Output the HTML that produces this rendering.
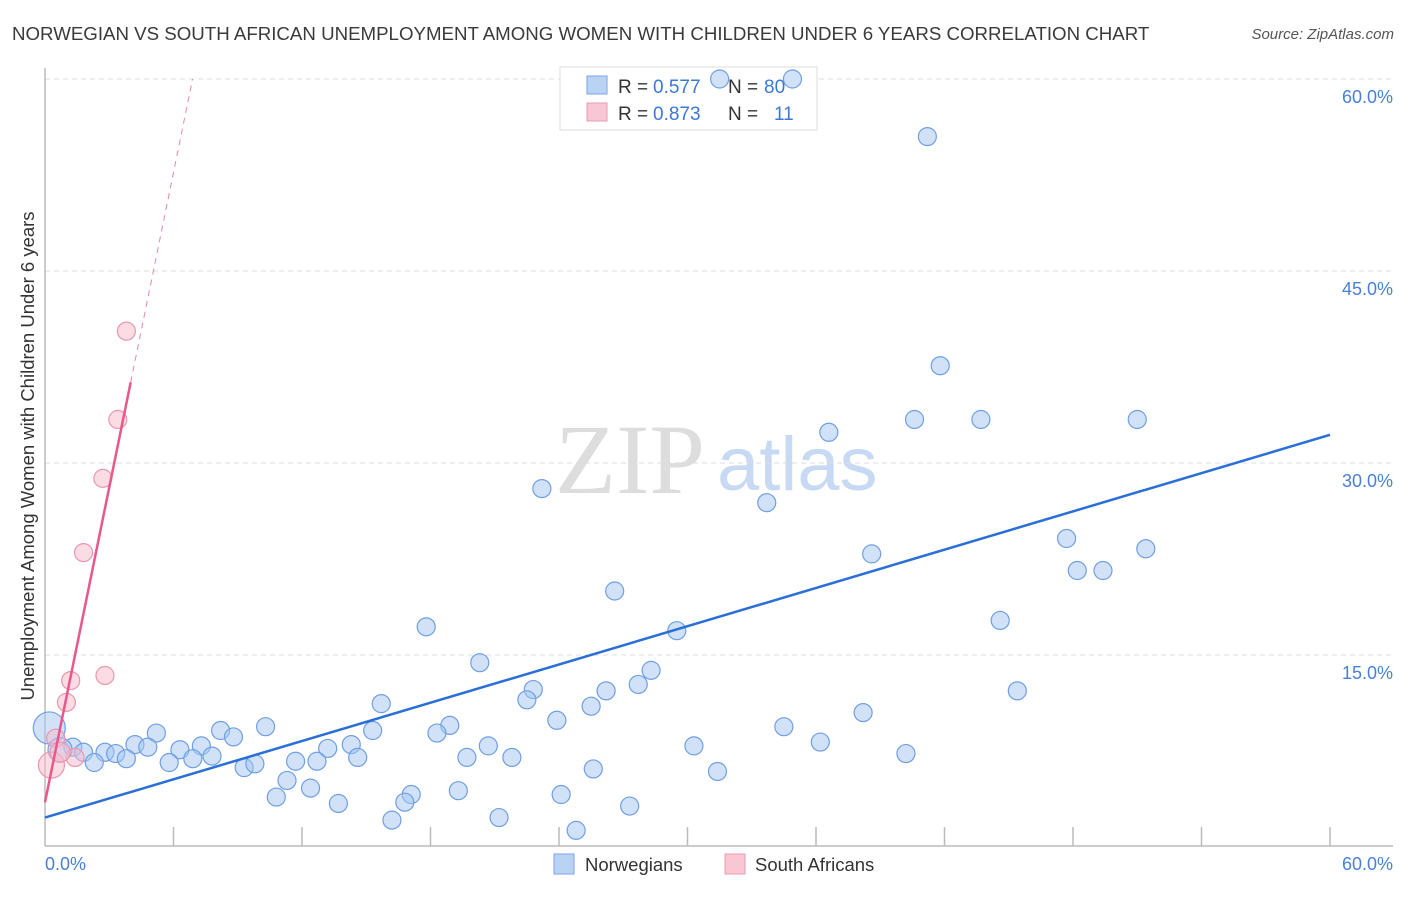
<!DOCTYPE html>
<html><head><meta charset="utf-8"><style>
body{margin:0;background:#fff;font-family:"Liberation Sans",sans-serif}
</style></head><body>
<svg id="chart" width="1406" height="892" xmlns="http://www.w3.org/2000/svg" font-family="Liberation Sans, sans-serif">
<text x="12" y="40" font-size="18.7" fill="#3a3a3a">NORWEGIAN VS SOUTH AFRICAN UNEMPLOYMENT AMONG WOMEN WITH CHILDREN UNDER 6 YEARS CORRELATION CHART</text>
<text x="1394" y="39" font-size="15" fill="#555" font-style="italic" text-anchor="end">Source: ZipAtlas.com</text>
<g>
<text x="555" y="493" font-size="100" fill="#ddd" style="font-family:'Liberation Serif',serif">ZIP</text>
<text x="717" y="490" font-size="76" fill="#c8daf3">atlas</text>
</g>
<g id="grid"></g>
<line x1="45" y1="68" x2="45" y2="846" stroke="#bbb" stroke-width="1.5"/>
<line x1="45" y1="846" x2="1393" y2="846" stroke="#bbb" stroke-width="1.5"/>
<g id="ticks"></g>
<text transform="translate(34,456) rotate(-90)" font-size="18.5" fill="#333" text-anchor="middle">Unemployment Among Women with Children Under 6 years</text>
<text x="45" y="870" font-size="18" fill="#4a7fd8">0.0%</text>
<text x="1393" y="870" font-size="18" fill="#4a7fd8" text-anchor="end">60.0%</text>
<g>
<rect x="560" y="67" width="257" height="63" fill="#fff" stroke="#ddd"/>
<rect x="587" y="76" width="20" height="18" fill="#b9d3f5" stroke="#7aa6e6"/>
<rect x="587" y="103" width="20" height="18" fill="#f9c6d4" stroke="#eb9ab2"/>
<text x="618" y="93" font-size="19" fill="#333">R =</text><text x="653" y="93" font-size="19" fill="#3b78d8">0.577</text>
<text x="728" y="93" font-size="19" fill="#333">N =</text><text x="764" y="93" font-size="19" fill="#3b78d8">80</text>
<text x="618" y="120" font-size="19" fill="#333">R =</text><text x="653" y="120" font-size="19" fill="#3b78d8">0.873</text>
<text x="728" y="120" font-size="19" fill="#333">N =</text><text x="774" y="120" font-size="19" fill="#3b78d8">11</text>
</g>
<g id="pts"></g>
<g id="lines"></g>
<g>
<rect x="554" y="854" width="20" height="20" fill="#b9d3f5" stroke="#7aa6e6"/>
<text x="585" y="871" font-size="18.5" fill="#333">Norwegians</text>
<rect x="725" y="854" width="20" height="20" fill="#f9c6d4" stroke="#eb9ab2"/>
<text x="755" y="871" font-size="18.5" fill="#333">South Africans</text>
</g>
</svg>
<script>
const yTicks=[15,30,45,60];
const yTickLabels=["15.0%","30.0%","45.0%","60.0%"];
const xTicks=[6,12,18,24,30,36,42,48,54,60];
const norX=[31.5,34.9,41.2,41.8,40.6,43.7,51.0,36.6,23.2,33.7,47.7,51.4,38.6,48.2,49.4,26.6,44.6,17.8,29.5,20.3,28.3,27.7,45.4,22.8,26.2,22.5,15.7,25.5,38.2,23.9,18.9,10.3,34.5,8.2,5.2,15.3,8.8,18.3,20.7,30.3,14.3,13.2,4.2,4.8,7.3,6.3,36.2,40.2,2.8,3.3,1.3,1.8,3.8,6.9,5.8,7.8,14.6,19.7,21.8,11.7,12.7,2.3,9.3,9.8,25.6,31.4,11.3,12.4,10.8,19.3,17.1,16.8,24.1,13.7,27.3,21.2,16.2,24.8,0.2,0.7];
const norY=[60.0,60.0,55.5,37.6,33.4,33.4,33.4,32.4,28.0,26.9,24.1,23.3,22.9,21.6,21.6,20.0,17.7,17.2,16.9,14.4,13.8,12.7,12.2,12.3,12.2,11.5,11.2,11.0,10.5,9.9,9.5,9.4,9.4,9.1,8.9,9.1,8.6,8.9,7.9,7.9,8.0,7.7,8.0,7.8,7.9,7.6,8.2,7.3,7.4,7.3,7.8,7.4,6.9,6.9,6.6,7.1,7.0,7.0,7.0,6.7,6.7,6.6,6.2,6.5,6.1,5.9,5.2,4.6,3.9,4.4,4.1,3.5,4.1,3.4,3.2,2.3,2.1,1.3,9.3,7.6];
const norR=[9,9,9,9,9,9,9,9,9,9,9,9,9,9,9,9,9,9,9,9,9,9,9,9,9,9,9,9,9,9,9,9,9,9,9,9,9,9,9,9,9,9,9,9,9,9,9,9,9,9,9,9,9,9,9,9,9,9,9,9,9,9,9,9,9,9,9,9,9,9,9,9,9,9,9,9,9,9,16,12];
const saX=[3.8,3.4,2.7,1.8,1.2,2.8,1.0,0.5,1.4,0.3,0.7];
const saY=[40.3,33.4,28.8,23.0,13.0,13.4,11.3,8.5,7.0,6.4,7.4];
const saR=[9,9,9,9,9,9,9,9,9,13,10];
const norTrend=[2.3,32.2];
const saTrend=[3.5,8.2];
const X=v=>45+v*1285/60, Y=v=>847-v*12.8;
const NS="http://www.w3.org/2000/svg";
function mk(t,a,p){const e=document.createElementNS(NS,t);for(const k in a)e.setAttribute(k,a[k]);p.appendChild(e);return e;}
const grid=document.getElementById('grid');
yTicks.forEach((v,i)=>{
 const l=mk('line',{x1:45,x2:1393,y1:Y(v),y2:Y(v),stroke:'#ddd','stroke-dasharray':'5,4'},grid);
 
 
 const t=mk('text',{x:1393,y:Y(v)+24,'font-size':18,fill:'#4a7fd8','text-anchor':'end'},grid);
 t.textContent=yTickLabels[i];
 
 
});
const tk=document.getElementById('ticks');
xTicks.forEach(v=>{
 const l=mk('line',{x1:X(v),x2:X(v),y1:827,y2:846,stroke:'#bbb','stroke-width':1.5},tk);
 
 
});
const pts=document.getElementById('pts');
norX.forEach((x,i)=>{
 const c=mk('circle',{cx:X(x),cy:Y(norY[i]),r:norR[i],fill:'rgba(164,198,242,0.5)',stroke:'#6f9fe2','stroke-width':1.2},pts);
 
 
});
saX.forEach((x,i)=>{
 const c=mk('circle',{cx:X(x),cy:Y(saY[i]),r:saR[i],fill:'rgba(248,185,203,0.5)',stroke:'#ea96ae','stroke-width':1.2},pts);
 
 
});
const ln=document.getElementById('lines');
const bl=mk('line',{x1:X(0),y1:Y(norTrend[0]),x2:X(60),y2:Y(norTrend[1]),stroke:'#2a6fd6','stroke-width':2.5},ln);


const xe=4.0, xt=(60-saTrend[0])/saTrend[1];
const pl=mk('line',{x1:X(0),y1:Y(saTrend[0]),x2:X(xe),y2:Y(saTrend[0]+saTrend[1]*xe),stroke:'#e8588a','stroke-width':2.5},ln);


const pd=mk('line',{x1:X(xe),y1:Y(saTrend[0]+saTrend[1]*xe),x2:X(xt),y2:Y(60),stroke:'#e8889f','stroke-width':1,'stroke-dasharray':'6,5'},ln);


</script>
</body></html>
